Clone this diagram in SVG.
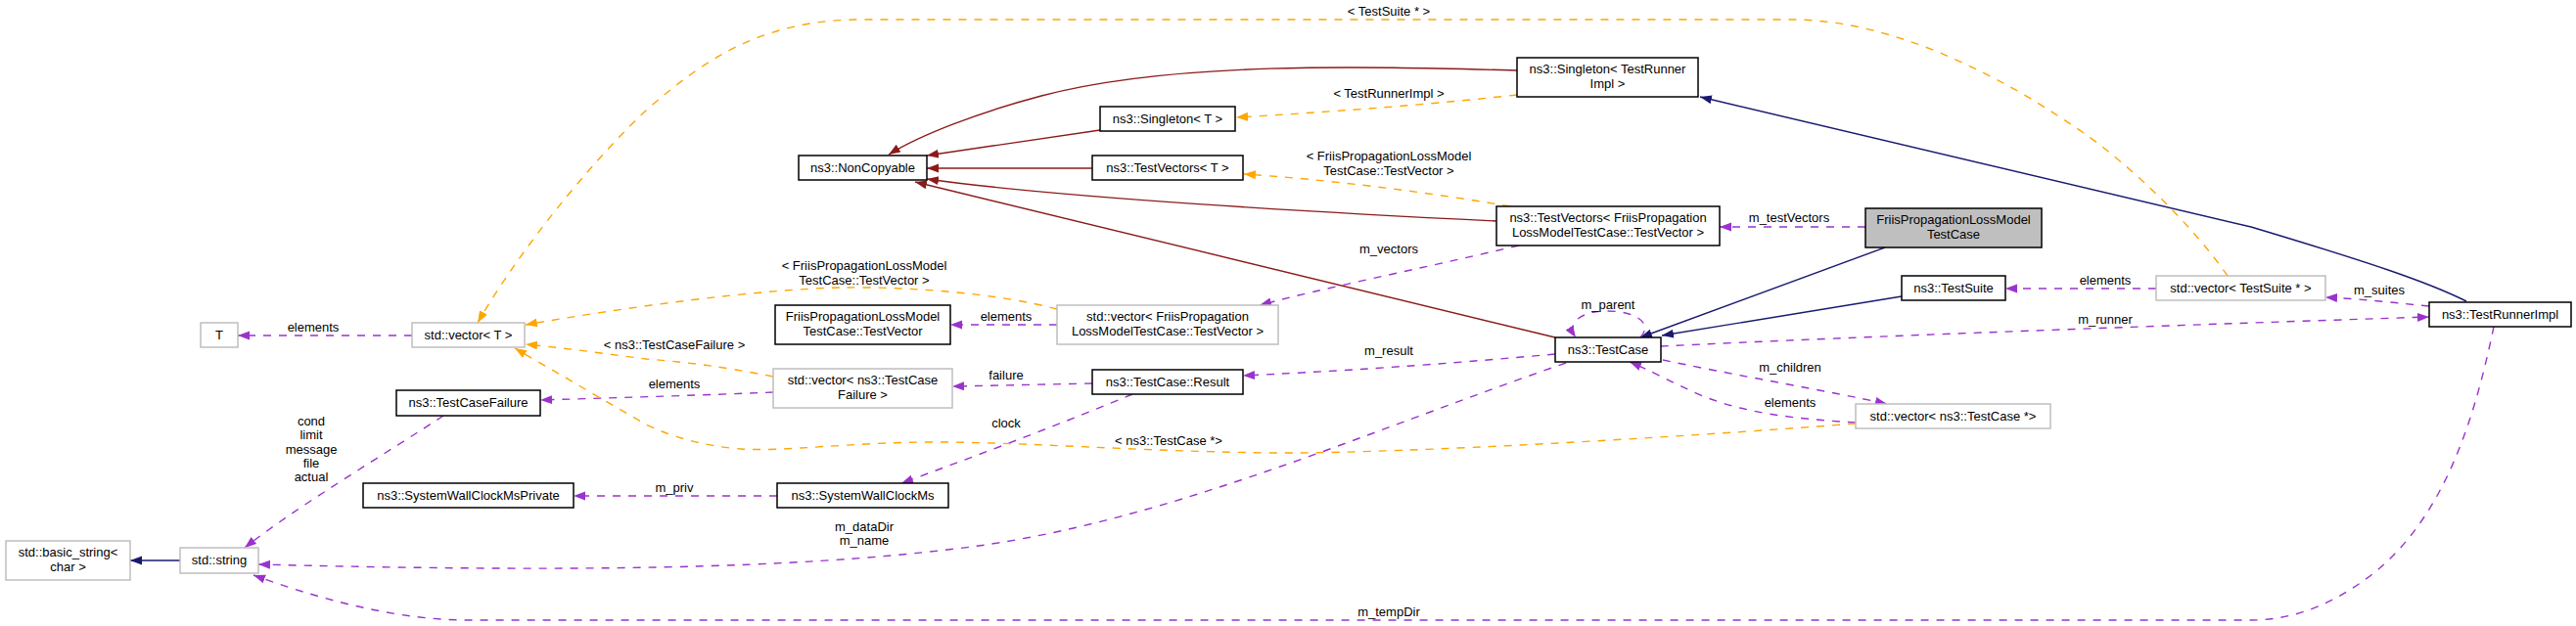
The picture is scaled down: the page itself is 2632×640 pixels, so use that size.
<svg xmlns="http://www.w3.org/2000/svg" width="2632" height="640" viewBox="0 0 2632 640">
<style>
text{font-family:"Liberation Sans",Arial,sans-serif;font-size:13px;fill:#000}
.n text{text-anchor:middle}
.b{fill:#fff;stroke:#000;stroke-width:1.5}
.g{fill:#fff;stroke:#bfbfbf;stroke-width:1.5}
.s{fill:#bfbfbf;stroke:#000;stroke-width:1.5}
.e path{fill:none;stroke-width:1.4}
.r{stroke:#8b1a1a;marker-end:url(#ar)}
.v{stroke:#191970;marker-end:url(#av)}
.p{stroke:#9a32cd;stroke-dasharray:8,8;marker-end:url(#ap)}
.o{stroke:#ffa500;stroke-dasharray:8,8;marker-end:url(#ao)}
.l text{text-anchor:middle}
</style>
<defs>
<marker id="ar" markerUnits="userSpaceOnUse" markerWidth="13" markerHeight="10" refX="12" refY="4.5" orient="auto"><path d="M0,0L12,4.5L0,9z" fill="#8b1a1a"/></marker>
<marker id="av" markerUnits="userSpaceOnUse" markerWidth="13" markerHeight="10" refX="12" refY="4.5" orient="auto"><path d="M0,0L12,4.5L0,9z" fill="#191970"/></marker>
<marker id="ap" markerUnits="userSpaceOnUse" markerWidth="13" markerHeight="10" refX="12" refY="4.5" orient="auto"><path d="M0,0L12,4.5L0,9z" fill="#9a32cd"/></marker>
<marker id="ao" markerUnits="userSpaceOnUse" markerWidth="13" markerHeight="10" refX="12" refY="4.5" orient="auto"><path d="M0,0L12,4.5L0,9z" fill="#ffa500"/></marker>
</defs>
<rect width="2632" height="640" fill="#fff"/>
<g id="connectors" class="e">
<path class="r" d="M1550,72C1400,68 1200,62 1064,98C1000,115 940,138 908,158"/>
<path class="r" d="M1124,133L947,159"/>
<path class="r" d="M1116,172L947,172"/>
<path class="r" d="M1529,226C1360,218 1080,202 947,183"/>
<path class="r" d="M1589,345L935,186"/>
<path class="v" d="M2520,308C2480,288 2420,268 2300,232L1737,99"/>
<path class="v" d="M1926,253L1676,345"/>
<path class="v" d="M1943,303L1698,343"/>
<path class="v" d="M184,573L133,573"/>
<path class="p" d="M1906,232L1757,232"/>
<path class="p" d="M1552,251C1450,275 1350,295 1287,312"/>
<path class="p" d="M1080,332L971,332"/>
<path class="p" d="M1589,362C1500,370 1400,378 1270,384"/>
<path class="p" d="M1116,392L973,395"/>
<path class="p" d="M790,401C720,404 650,406 552,409"/>
<path class="p" d="M1157,403C1080,435 1000,465 921,494"/>
<path class="p" d="M794,507L586,507"/>
<path class="p" d="M453,425C400,460 300,520 250,560"/>
<path class="p" d="M1600,371C1400,440 1200,530 1000,558C850,578 650,587 264,577"/>
<path class="p" d="M2548,334C2530,420 2500,530 2420,590C2380,620 2340,634 2300,634L480,634C400,634 320,610 259,588"/>
<path class="p" d="M1676,345C1690,330 1670,318 1643,318C1615,318 1600,330 1610,345"/>
<path class="p" d="M1699,368C1780,385 1870,400 1928,413"/>
<path class="p" d="M1896,432C1830,428 1783,422 1740,405C1710,392 1685,378 1665,370"/>
<path class="p" d="M1697,354C1900,344 2233,332 2482,324"/>
<path class="p" d="M2482,313C2450,310 2420,306 2376,304"/>
<path class="p" d="M2203,295L2049,295"/>
<path class="p" d="M421,343L243,343"/>
<path class="o" d="M1080,316C1020,300 930,293 862,294C780,295 640,314 537,332"/>
<path class="o" d="M790,385C740,375 700,370 660,367C620,362 580,356 537,352"/>
<path class="o" d="M1896,433C1650,452 1400,464 1300,463C1150,461 1050,452 955,452C870,452 800,462 757,459C720,456 690,448 660,434L526,356"/>
<path class="o" d="M2276,282C2240,230 2170,160 2105,120C2060,90 2020,70 1980,53C1930,33 1880,20 1830,20L880,20C780,20 720,60 660,113C620,150 540,240 488,330"/>
<path class="o" d="M1550,97C1450,108 1350,115 1263,120"/>
<path class="o" d="M1543,211C1450,195 1350,183 1271,178"/>
</g>
<g class="l">
<text x="1828" y="227">m_testVectors</text>
<text x="1419" y="259">m_vectors</text>
<text x="1028" y="328">elements</text>
<text x="1419" y="363">m_result</text>
<text x="1028" y="388">failure</text>
<text x="689" y="397">elements</text>
<text x="1028" y="437">clock</text>
<text x="689" y="503">m_priv</text>
<text x="318" y="435">cond</text>
<text x="318" y="449">limit</text>
<text x="318" y="464">message</text>
<text x="318" y="478">file</text>
<text x="318" y="492">actual</text>
<text x="883" y="543">m_dataDir</text>
<text x="883" y="557">m_name</text>
<text x="1419" y="630">m_tempDir</text>
<text x="1643" y="316">m_parent</text>
<text x="1829" y="380">m_children</text>
<text x="1829" y="416">elements</text>
<text x="2151" y="331">m_runner</text>
<text x="2431" y="301">m_suites</text>
<text x="2151" y="291">elements</text>
<text x="320" y="339">elements</text>
<text x="883" y="276">&lt; FriisPropagationLossModel</text>
<text x="883" y="291">TestCase::TestVector &gt;</text>
<text x="689" y="357">&lt; ns3::TestCaseFailure &gt;</text>
<text x="1194" y="455">&lt; ns3::TestCase *&gt;</text>
<text x="1419" y="16">&lt; TestSuite * &gt;</text>
<text x="1419" y="100">&lt; TestRunnerImpl &gt;</text>
<text x="1419" y="164">&lt; FriisPropagationLossModel</text>
<text x="1419" y="179">TestCase::TestVector &gt;</text>
</g>
<g id="n_noncopyable" class="n"><rect class="b" x="816" y="159" width="131" height="25"/><text x="881.5" y="176">ns3::NonCopyable</text></g>
<g id="n_singleton_t" class="n"><rect class="b" x="1124" y="109" width="138" height="25"/><text x="1193" y="126">ns3::Singleton&lt; T &gt;</text></g>
<g id="n_testvectors_t" class="n"><rect class="b" x="1116" y="159" width="154" height="25"/><text x="1193" y="176">ns3::TestVectors&lt; T &gt;</text></g>
<g id="n_singleton_tri" class="n"><rect class="b" x="1550" y="59" width="185" height="40"/><text x="1642.5" y="75">ns3::Singleton&lt; TestRunner</text><text x="1642.5" y="90">Impl &gt;</text></g>
<g id="n_testvectors_friis" class="n"><rect class="b" x="1529" y="211" width="228" height="40"/><text x="1643" y="227">ns3::TestVectors&lt; FriisPropagation</text><text x="1643" y="242">LossModelTestCase::TestVector &gt;</text></g>
<g id="n_friis_testcase" class="n"><rect class="s" x="1906" y="213" width="180" height="40"/><text x="1996" y="229">FriisPropagationLossModel</text><text x="1996" y="244">TestCase</text></g>
<g id="n_testsuite" class="n"><rect class="b" x="1943" y="282" width="106" height="25"/><text x="1996" y="299">ns3::TestSuite</text></g>
<g id="n_vector_testsuite" class="n"><rect class="g" x="2203" y="282" width="173" height="25"/><text x="2289.5" y="299">std::vector&lt; TestSuite * &gt;</text></g>
<g id="n_testrunnerimpl" class="n"><rect class="b" x="2482" y="309" width="145" height="25"/><text x="2554.5" y="326">ns3::TestRunnerImpl</text></g>
<g id="n_testcase" class="n"><rect class="b" x="1589" y="345" width="108" height="25"/><text x="1643" y="362">ns3::TestCase</text></g>
<g id="n_vector_testcase" class="n"><rect class="g" x="1896" y="413" width="199" height="25"/><text x="1995.5" y="430">std::vector&lt; ns3::TestCase *&gt;</text></g>
<g id="n_t" class="n"><rect class="g" x="205" y="330" width="38" height="25"/><text x="224" y="347">T</text></g>
<g id="n_vector_t" class="n"><rect class="g" x="421" y="330" width="115" height="25"/><text x="478.5" y="347">std::vector&lt; T &gt;</text></g>
<g id="n_friis_testvector" class="n"><rect class="b" x="792" y="312" width="179" height="40"/><text x="881.5" y="328">FriisPropagationLossModel</text><text x="881.5" y="343">TestCase::TestVector</text></g>
<g id="n_vector_friis" class="n"><rect class="g" x="1080" y="312" width="226" height="40"/><text x="1193" y="328">std::vector&lt; FriisPropagation</text><text x="1193" y="343">LossModelTestCase::TestVector &gt;</text></g>
<g id="n_testcasefailure" class="n"><rect class="b" x="405" y="399" width="147" height="26"/><text x="478.5" y="416">ns3::TestCaseFailure</text></g>
<g id="n_vector_tcf" class="n"><rect class="g" x="790" y="377" width="183" height="40"/><text x="881.5" y="393">std::vector&lt; ns3::TestCase</text><text x="881.5" y="408">Failure &gt;</text></g>
<g id="n_result" class="n"><rect class="b" x="1116" y="378" width="154" height="25"/><text x="1193" y="395">ns3::TestCase::Result</text></g>
<g id="n_swcm_private" class="n"><rect class="b" x="371" y="494" width="215" height="25"/><text x="478.5" y="511">ns3::SystemWallClockMsPrivate</text></g>
<g id="n_swcm" class="n"><rect class="b" x="794" y="494" width="175" height="25"/><text x="881.5" y="511">ns3::SystemWallClockMs</text></g>
<g id="n_basic_string" class="n"><rect class="g" x="6" y="553" width="127" height="40"/><text x="69.5" y="569">std::basic_string&lt;</text><text x="69.5" y="584">char &gt;</text></g>
<g id="n_string" class="n"><rect class="g" x="184" y="560" width="80" height="26"/><text x="224" y="577">std::string</text></g>
</svg>
